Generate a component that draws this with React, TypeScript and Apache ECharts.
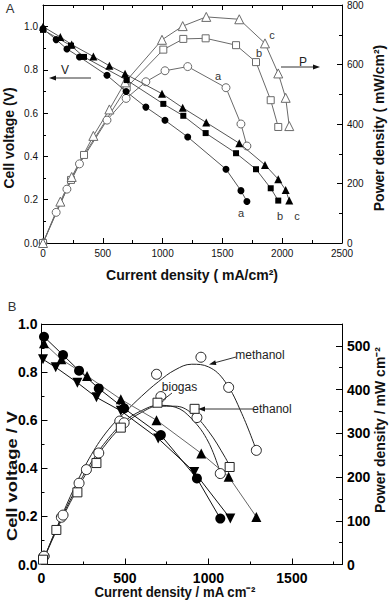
import React, { useEffect, useRef } from 'react';
import * as echarts from 'echarts';

// ---------- Panel A data (current density mA/cm2, voltage V, power mW/cm2) ----------
const aCurrentA = [0, 110, 200, 305, 535, 695, 860, 1020, 1210, 1530, 1655, 1705];
const aVoltageA = [0.99, 0.94, 0.897, 0.86, 0.775, 0.70, 0.628, 0.567, 0.49, 0.341, 0.242, 0.192];
const aPowerA = [0, 103, 181, 266, 413, 486, 542, 579, 593, 522, 400, 326];

const bCurrentA = [0, 234, 343, 700, 1006, 1173, 1360, 1614, 1781, 1904, 1967];
const bVoltageA = [0.985, 0.912, 0.86, 0.753, 0.643, 0.588, 0.508, 0.415, 0.341, 0.253, 0.196];
const bPowerA = [0, 212, 296, 523, 650, 686, 688, 665, 608, 480, 390];

const cCurrentA = [0, 145, 240, 421, 555, 686, 995, 1168, 1365, 1641, 1856, 1967, 2029, 2059];
const cVoltageA = [1.0, 0.952, 0.917, 0.862, 0.819, 0.782, 0.69, 0.625, 0.557, 0.461, 0.361, 0.295, 0.245, 0.196];
const cPowerA = [0, 139, 222, 360, 449, 540, 683, 729, 760, 752, 671, 570, 488, 393];

// ---------- Panel B data ----------
const methanolCurrentV = [15, 119, 273, 475, 689, 957, 1121, 1287];
const methanolVoltage = [0.92, 0.853, 0.784, 0.687, 0.6, 0.462, 0.365, 0.198];
const methanolCurrentP = [15, 119, 269, 469, 689, 955, 1121, 1287];
const methanolPower = [19, 108, 217, 328, 435, 474, 405, 261];
const methanolFitCurrent = [0, 100, 200, 300, 400, 500, 600, 700, 800, 900, 1000, 1100, 1200, 1290];
const methanolFitPower = [0, 92, 178, 252, 308, 348, 385, 418, 445, 458, 452, 418, 345, 258];

const biogasCurrentV = [15, 129, 225, 343, 495, 715, 931, 1071];
const biogasVoltage = [0.947, 0.871, 0.806, 0.732, 0.649, 0.538, 0.358, 0.191];
const biogasCurrentP = [15, 129, 225, 343, 495, 715, 931, 1071];
const biogasPower = [19, 113, 186, 255, 324, 384, 336, 208];
const biogasFitCurrent = [0, 100, 200, 300, 400, 500, 600, 700, 800, 900, 1000, 1075];
const biogasFitPower = [0, 90, 168, 235, 288, 328, 352, 364, 360, 333, 280, 205];

const ethanolCurrentV = [9, 85, 215, 329, 475, 699, 915, 1131];
const ethanolVoltage = [0.853, 0.82, 0.756, 0.695, 0.639, 0.524, 0.385, 0.191];
const ethanolCurrentP = [9, 89, 215, 329, 475, 695, 917, 1127];
const ethanolPower = [11, 79, 165, 232, 313, 370, 356, 223];
const ethanolFitCurrent = [0, 100, 200, 300, 400, 500, 600, 700, 800, 900, 1000, 1100, 1130];
const ethanolFitPower = [0, 86, 162, 228, 282, 322, 348, 362, 362, 346, 305, 245, 222];

// ---------- axis tick values ----------
const aXTicks = { min: 0, max: 2500, interval: 500 };
const aVTicks = { min: 0, max: 1.1, interval: 0.2 };
const aPTicks = { min: 0, max: 800, interval: 200 };
const bXTicks = { min: 0, max: 1800, interval: 500 };
const bVTicks = { min: 0, max: 1.0, interval: 0.2 };
const bPTicks = { min: 0, max: 550, interval: 100 };

const FONT = "'Liberation Sans', Arial, Helvetica, sans-serif";

function pts(xs: number[], ys: number[]) {
  return xs.map((x, i) => [x, ys[i]]);
}

const black = '#000';

function baseAxis(extra: any) {
  return {
    type: 'value',
    splitLine: { show: false },
    minorSplitLine: { show: false },
    axisLine: { show: true, onZero: false, lineStyle: { color: black, width: 1 } },
    ...extra,
  };
}

function tickOnly(gridIndex: number, position: string, min: number, max: number, interval: number, len: number) {
  return baseAxis({
    gridIndex, position, min, max, interval, offset: 0,
    axisLine: { show: false, onZero: false },
    axisLabel: { show: false },
    axisTick: { show: true, inside: true, length: len, lineStyle: { color: black } },
  });
}

const labelA = { fontSize: 10, color: '#111', fontFamily: FONT };
const labelB = { fontSize: 14, fontWeight: 'bold', color: '#000', fontFamily: FONT };

const xAxes = [
  // 0: A bottom
  baseAxis({
    gridIndex: 0, position: 'bottom', ...aXTicks,
    axisTick: { show: true, inside: true, length: 5, lineStyle: { color: black } },
    minorTick: { show: true, splitNumber: 2, length: 3, lineStyle: { color: black } },
    axisLabel: { ...labelA, margin: 5, formatter: (v: number) => String(v) },
  }),
  // 1: A top
  baseAxis({
    gridIndex: 0, position: 'top', ...aXTicks,
    axisTick: { show: true, inside: true, length: 5, lineStyle: { color: black } },
    minorTick: { show: true, splitNumber: 2, length: 3, lineStyle: { color: black } },
    axisLabel: { show: false },
  }),
  // 2: B bottom
  baseAxis({
    gridIndex: 1, position: 'bottom', ...bXTicks,
    axisTick: { show: true, inside: true, length: 6, lineStyle: { color: black } },
    axisLabel: {
      ...labelB, margin: 6, showMaxLabel: false,
      formatter: (v: number) => (v % 500 === 0 ? String(v) : ''),
    },
  }),
  // 3: B bottom minor ticks
  tickOnly(1, 'bottom', 0, 1800, 250, 3),
  // 4: B top line
  baseAxis({
    gridIndex: 1, position: 'top', ...bXTicks,
    axisTick: { show: false }, axisLabel: { show: false },
  }),
];

const yAxes = [
  // 0: A left voltage
  baseAxis({
    gridIndex: 0, position: 'left', ...aVTicks, offset: 0,
    axisTick: { show: true, inside: true, length: 5, lineStyle: { color: black } },
    axisLabel: {
      ...labelA, margin: 5, showMaxLabel: false,
      formatter: (v: number) => {
        const r = Math.round(v * 10);
        return r % 2 === 0 ? (r / 10).toFixed(1) : '';
      },
    },
  }),
  // 1: A left minor ticks
  tickOnly(0, 'left', 0, 1.1, 0.1, 3),
  // 2: A right power
  baseAxis({
    gridIndex: 0, position: 'right', ...aPTicks, offset: 0,
    axisTick: { show: true, inside: true, length: 5, lineStyle: { color: black } },
    minorTick: { show: true, splitNumber: 2, length: 3, lineStyle: { color: black } },
    axisLabel: { ...labelA, margin: 5, formatter: (v: number) => String(v) },
  }),
  // 3: B left voltage
  baseAxis({
    gridIndex: 1, position: 'left', ...bVTicks, offset: 0,
    axisTick: { show: true, inside: true, length: 6, lineStyle: { color: black } },
    minorTick: { show: true, splitNumber: 2, length: 3, lineStyle: { color: black } },
    axisLabel: { ...labelB, margin: 4, formatter: (v: number) => v.toFixed(1) },
  }),
  // 4: B right power
  baseAxis({
    gridIndex: 1, position: 'right', ...bPTicks, offset: 0,
    axisTick: { show: true, inside: true, length: 6, lineStyle: { color: black } },
    axisLabel: {
      ...labelB, margin: 5, showMaxLabel: false,
      formatter: (v: number) => (v % 100 === 0 && v <= 500 ? String(v) : ''),
    },
  }),
  // 5: B right minor ticks
  tickOnly(1, 'right', 0, 550, 50, 3),
];

function vSeriesA(xs: number[], ys: number[], symbol: string, size: number) {
  return {
    type: 'line', xAxisIndex: 0, yAxisIndex: 0, data: pts(xs, ys),
    symbol, symbolSize: size, showAllSymbol: true, silent: true, z: 4,
    itemStyle: { color: '#000' },
    lineStyle: { color: '#555', width: 1 },
  };
}
function pSeriesA(xs: number[], ys: number[], symbol: string, size: number) {
  return {
    type: 'line', xAxisIndex: 0, yAxisIndex: 2, data: pts(xs, ys),
    symbol, symbolSize: size, showAllSymbol: true, silent: true, z: 3,
    itemStyle: { color: '#fff', borderColor: '#6a6a6a', borderWidth: 1 },
    lineStyle: { color: '#6a6a6a', width: 1 },
  };
}
function vSeriesB(xs: number[], ys: number[], symbol: string, size: number, rotate: number, lineColor: string) {
  return {
    type: 'line', xAxisIndex: 2, yAxisIndex: 3, data: pts(xs, ys),
    symbol, symbolSize: size, symbolRotate: rotate, showAllSymbol: true, silent: true, z: 4,
    itemStyle: { color: '#000' },
    lineStyle: { color: lineColor, width: 1 },
  };
}
function pPointsB(xs: number[], ys: number[], symbol: string, size: number) {
  return {
    type: 'scatter', xAxisIndex: 2, yAxisIndex: 4, data: pts(xs, ys),
    symbol, symbolSize: size, silent: true, z: 5,
    itemStyle: { color: '#fff', borderColor: '#222', borderWidth: 1, opacity: 1 },
  };
}
function fitB(xs: number[], ys: number[]) {
  return {
    type: 'line', xAxisIndex: 2, yAxisIndex: 4, data: pts(xs, ys),
    symbol: 'none', smooth: 0.4, silent: true, z: 3,
    lineStyle: { color: '#222', width: 1 },
  };
}

const series = [
  pSeriesA(aCurrentA, aPowerA, 'circle', 8),
  pSeriesA(bCurrentA, bPowerA, 'rect', 7),
  pSeriesA(cCurrentA, cPowerA, 'triangle', 9),
  vSeriesA(aCurrentA, aVoltageA, 'circle', 7),
  vSeriesA(bCurrentA, bVoltageA, 'rect', 6),
  vSeriesA(cCurrentA, cVoltageA, 'triangle', 8),

  fitB(methanolFitCurrent, methanolFitPower),
  fitB(biogasFitCurrent, biogasFitPower),
  fitB(ethanolFitCurrent, ethanolFitPower),
  vSeriesB(methanolCurrentV, methanolVoltage, 'triangle', 10, 0, '#666'),
  vSeriesB(biogasCurrentV, biogasVoltage, 'circle', 10, 0, '#111'),
  vSeriesB(ethanolCurrentV, ethanolVoltage, 'triangle', 10, 180, '#111'),
  pPointsB(methanolCurrentP, methanolPower, 'circle', 10),
  pPointsB(biogasCurrentP, biogasPower, 'circle', 10),
  pPointsB(ethanolCurrentP, ethanolPower, 'rect', 9),
];

function txt(text: string, x: number, y: number, size: number, opts: any = {}) {
  return {
    type: 'text', x, y, silent: true, z: 100,
    rotation: opts.rotation || 0,
    scaleX: opts.scaleX || 1,
    scaleY: opts.scaleY || 1,
    style: {
      text, fontSize: size, fontFamily: FONT,
      fontWeight: opts.bold ? 'bold' : 'normal',
      fill: opts.color || '#111',
      textAlign: opts.align || 'center',
      textVerticalAlign: 'middle',
      align: opts.align || 'center',
      verticalAlign: 'middle',
    },
  };
}
function seg(x1: number, y1: number, x2: number, y2: number, color = '#333') {
  return { type: 'line', silent: true, z: 100, shape: { x1, y1, x2, y2 }, style: { stroke: color, lineWidth: 1 } };
}
function head(points: number[][], color = '#111') {
  return { type: 'polygon', silent: true, z: 100, shape: { points }, style: { fill: color } };
}

const R = Math.PI / 2;
const graphics = [
  // Panel A
  txt('A', 10, 8, 13, { color: '#333' }),
  txt('Cell voltage (V)', 9, 138, 14, { bold: true, rotation: R }),
  txt('Power density ( mW/cm²)', 379, 128, 14, { bold: true, rotation: R }),
  txt('Current density ( mA/cm²)', 192, 275, 14, { bold: true }),
  txt('V', 65, 70, 12, { color: '#222' }),
  seg(91, 78, 54, 78),
  head([[49, 78], [56, 75.5], [56, 80.5]]),
  txt('P', 303, 62, 12, { color: '#222' }),
  seg(281, 67, 314, 67),
  head([[320, 67], [313, 64.5], [313, 69.5]]),
  txt('a', 218, 76, 11, { color: '#333' }),
  txt('b', 259, 53, 11, { color: '#333' }),
  txt('c', 272, 35, 11, { color: '#333' }),
  txt('a', 241, 213, 11, { color: '#333' }),
  txt('b', 280, 216, 11, { color: '#333' }),
  txt('c', 297, 216, 11, { color: '#333' }),

  // Panel B
  txt('B', 12, 306, 13, { color: '#333' }),
  txt('Cell voltage / V', 12, 476, 15, { bold: true, rotation: R, scaleX: 1.22 }),
  txt('Power density / mW cm⁻²', 380, 430, 14, { bold: true, rotation: R }),
  txt('Current density / mA cm⁻²', 175, 592, 15, { bold: true, scaleX: 0.88 }),
  txt('methanol', 260, 355, 12, { color: '#222' }),
  seg(236, 357, 215, 362.7),
  head([[209, 364.5], [216.4, 365.1], [215.2, 360.3]]),
  txt('ethanol', 272, 409, 12, { color: '#222' }),
  seg(253, 409, 204, 409),
  head([[198, 409], [205, 406.5], [205, 411.5]]),
  txt('biogas', 179.5, 387, 12, { color: '#222' }),
  seg(172, 393, 163, 400),
];

const option: any = {
  animation: false,
  backgroundColor: '#fff',
  grid: [
    { left: 43, top: 5, width: 299, height: 238, containLabel: false, outerBoundsMode: 'none' },
    { left: 41.5, top: 324, width: 300.5, height: 240.5, containLabel: false, outerBoundsMode: 'none' },
  ],
  xAxis: xAxes,
  yAxis: yAxes,
  series,
  graphic: { elements: graphics },
};

export default function App() {
  const ref = useRef<HTMLDivElement>(null);
  useEffect(() => {
    document.body.style.margin = '0';
    const chart = echarts.init(ref.current as HTMLDivElement, null, { renderer: 'svg' });
    chart.setOption(option);
    return () => chart.dispose();
  }, []);
  return <div ref={ref} style={{ width: 392, height: 603, background: '#fff' }} />;
}
